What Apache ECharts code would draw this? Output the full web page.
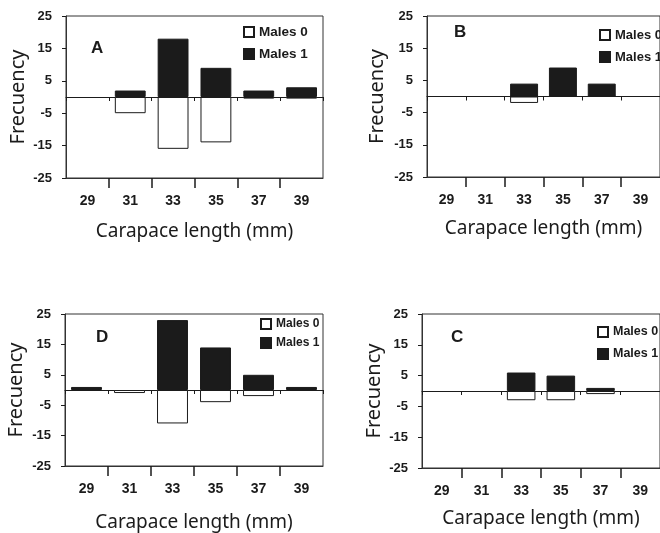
<!DOCTYPE html>
<html>
<head>
<meta charset="utf-8">
<script src="https://cdn.jsdelivr.net/npm/echarts@6/dist/echarts.min.js"></script>
<style>
  html, body { margin: 0; padding: 0; background: #fff; }
  #chart { width: 660px; height: 533px; }
</style>
</head>
<body>
<div id="chart"></div>
<script>
// Carapace length classes (mm)
const categories = ['29', '31', '33', '35', '37', '39'];
// Frequency axis tick labels
const yTicks = [-25, -15, -5, 5, 15, 25];

// Panel A
const a_males0 = [0, -5, -16, -14, -0.5, -0.5];
const a_males1 = [0, 2, 18, 9, 2, 3];
// Panel B
const b_males0 = [0, 0, -2, 0, 0, 0];
const b_males1 = [0, 0, 4, 9, 4, 0];
// Panel D
const d_males0 = [0, -1, -11, -4, -2, 0];
const d_males1 = [1, 0, 23, 14, 5, 1];
// Panel C
const c_males0 = [0, 0, -3, -3, -1, 0];
const c_males1 = [0, 0, 6, 5, 1, 0];

const INK = '#1b1b1b';
const BOLD = 'Liberation Sans, Arial, sans-serif';
const SANS = 'Noto Sans, sans-serif';

const labelVals = categories.map(Number);
const boundaries = categories.slice(1).map((c, i) => (Number(c) + Number(categories[i])) / 2);
// empty classes draw no bar at all
const asBars = arr => arr.map(v => (v === 0 ? '-' : v));

const panels = [
  { letter: 'A', m0: a_males0, m1: a_males1,
    grid: { left: 66, top: 16, right: 337, bottom: 355 },
    letterPos: { left: 91, top: 40 },
    legend: { left: 243, top: 25, gap: 8, size: 13.5 },
    xGap: 44, yGap: 38 },
  { letter: 'B', m0: b_males0, m1: b_males1,
    grid: { left: 427, top: 16, right: -8, bottom: 356 },
    letterPos: { left: 454, top: 24 },
    legend: { left: 599, top: 28, gap: 8, size: 13 },
    xGap: 42, yGap: 40 },
  { letter: 'D', m0: d_males0, m1: d_males1,
    grid: { left: 65, top: 314, right: 337, bottom: 63 },
    letterPos: { left: 96, top: 329 },
    legend: { left: 260, top: 317, gap: 5, size: 12 },
    xGap: 47, yGap: 39 },
  { letter: 'C', m0: c_males0, m1: c_males1,
    grid: { left: 422, top: 314, right: -5, bottom: 65 },
    letterPos: { left: 451, top: 329 },
    legend: { left: 597, top: 325, gap: 8, size: 12.5 },
    xGap: 41, yGap: 38 }
];

const option = {
  backgroundColor: '#fff',
  animation: false,
  title: [], grid: [], xAxis: [], yAxis: [], legend: [], series: []
};

panels.forEach((p, i) => {
  option.title.push({
    text: p.letter, left: p.letterPos.left, top: p.letterPos.top, padding: 0,
    textStyle: { fontFamily: BOLD, fontWeight: 'bold', fontSize: 17, color: INK }
  });
  option.grid.push(Object.assign({
    show: true, borderColor: '#333', borderWidth: 1, backgroundColor: 'transparent'
  }, p.grid));

  // axis through zero carrying the bars
  option.xAxis.push({
    gridIndex: i, type: 'category', data: categories, position: 'top',
    axisLine: { onZero: true, lineStyle: { color: INK, width: 1 } },
    axisTick: { show: true, inside: true, length: 4, lineStyle: { color: INK } },
    axisLabel: { show: false }, splitLine: { show: false }
  });
  // bottom axis with class labels and separators
  option.xAxis.push({
    gridIndex: i, type: 'value', position: 'bottom', min: 28, max: 40,
    axisLine: { show: true, onZero: false, lineStyle: { color: '#333' } },
    axisTick: { show: true, customValues: boundaries, length: 10, lineStyle: { color: INK, width: 1.5 } },
    axisLabel: { customValues: labelVals, margin: 16, fontFamily: BOLD, fontWeight: 'bold', fontSize: 14, color: INK },
    splitLine: { show: false },
    name: 'Carapace length (mm)', nameLocation: 'middle', nameGap: p.xGap,
    nameTextStyle: { fontFamily: SANS, fontSize: 19, color: INK }
  });
  option.yAxis.push({
    gridIndex: i, type: 'value', min: -25, max: 25,
    axisLine: { show: true, lineStyle: { color: '#333' } },
    axisTick: { show: true, customValues: yTicks, length: 4, lineStyle: { color: INK } },
    axisLabel: { customValues: yTicks, margin: 14, fontFamily: BOLD, fontWeight: 'bold', fontSize: 13, color: INK },
    splitLine: { show: false },
    name: 'Frecuency', nameLocation: 'middle', nameGap: p.yGap,
    nameTextStyle: { fontFamily: SANS, fontSize: 20, color: INK }
  });
  option.legend.push({
    data: ['Males 0', 'Males 1'], orient: 'vertical',
    left: p.legend.left, top: p.legend.top, itemGap: p.legend.gap, padding: 0,
    icon: 'rect', itemWidth: 10, itemHeight: 10, selectedMode: false,
    textStyle: { fontFamily: BOLD, fontWeight: 'bold', fontSize: p.legend.size, color: INK, lineHeight: 14 }
  });
  option.series.push({
    name: 'Males 0', type: 'bar', xAxisIndex: i * 2, yAxisIndex: i,
    stack: 'p' + i, data: asBars(p.m0), barWidth: '72%',
    itemStyle: { color: '#fff', borderColor: INK, borderWidth: 1 }
  });
  option.series.push({
    name: 'Males 1', type: 'bar', xAxisIndex: i * 2, yAxisIndex: i,
    stack: 'p' + i, data: asBars(p.m1), barWidth: '72%',
    itemStyle: { color: INK, borderColor: INK, borderWidth: 1 }
  });
});

const chart = echarts.init(document.getElementById('chart'), null, { renderer: 'canvas' });
chart.setOption(option);
</script>
</body>
</html>
